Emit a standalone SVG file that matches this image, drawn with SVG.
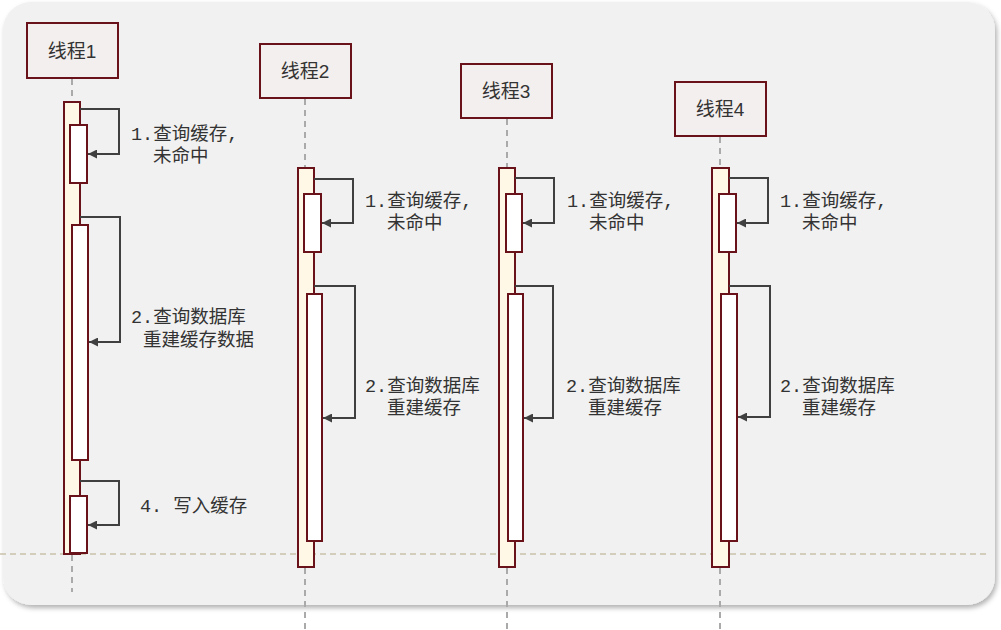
<svg xmlns="http://www.w3.org/2000/svg" width="1001" height="630" viewBox="0 0 1001 630">
<style>
.head{fill:#f3efef;stroke:#6a1219;stroke-width:2}
.outer{fill:#fff8e6;stroke:#6a1219;stroke-width:2}
.inner{fill:#ffffff;stroke:#6a1219;stroke-width:2}
.life{stroke:#aaaaaa;stroke-width:2;stroke-dasharray:6 5;fill:none}
.loop{fill:none;stroke:#404040;stroke-width:2}
.title{font-family:"Liberation Sans","Noto Sans CJK SC",sans-serif;font-size:19px;fill:#333333;text-anchor:middle}
.lbl{font-family:"Liberation Mono","Noto Sans CJK SC",monospace;font-size:18.5px;fill:#333333}
</style>
<defs>
<marker id="arr" viewBox="0 0 10 10" refX="10" refY="5" markerWidth="10" markerHeight="9" markerUnits="userSpaceOnUse" orient="auto">
<path d="M0,0 L10,5 L0,10 z" fill="#404040"/>
</marker>
<filter id="sh" x="-5%" y="-5%" width="110%" height="115%">
<feDropShadow dx="2" dy="3" stdDeviation="2.5" flood-color="#000000" flood-opacity="0.3"/>
</filter>
</defs>
<rect x="0" y="0" width="1001" height="630" fill="#ffffff"/>
<rect id="panel" x="3" y="2" width="992" height="603" rx="28" ry="28" fill="#f1f1f1" filter="url(#sh)"/>
<line x1="0" y1="554" x2="988" y2="554" stroke="#c9c1aa" stroke-width="1.5" stroke-dasharray="6 4"/>

<g id="lifelines">
<line class="life" x1="72" y1="79" x2="72" y2="102"/>
<line class="life" x1="72" y1="555" x2="72" y2="592"/>
<line class="life" x1="305" y1="99" x2="305" y2="168"/>
<line class="life" x1="305" y1="568" x2="305" y2="630"/>
<line class="life" x1="507" y1="119" x2="507" y2="168"/>
<line class="life" x1="507" y1="568" x2="507" y2="630"/>
<line class="life" x1="720" y1="137" x2="720" y2="168"/>
<line class="life" x1="720" y1="568" x2="720" y2="630"/>
</g>

<g id="thread1">
<rect class="head" x="27" y="23" width="91" height="55"/>
<text class="title" x="72" y="58">线程1</text>
<rect class="outer" x="64" y="102" width="16" height="452"/>
<rect class="inner" x="70" y="125" width="17" height="58"/>
<rect class="inner" x="72" y="225" width="16" height="235"/>
<rect class="inner" x="70" y="496" width="17" height="57"/>
</g>

<g id="thread2">
<rect class="head" x="260" y="44" width="91" height="54"/>
<text class="title" x="305" y="78">线程2</text>
<rect class="outer" x="298" y="168" width="16" height="399"/>
<rect class="inner" x="304" y="194" width="17" height="58"/>
<rect class="inner" x="307" y="294" width="15" height="247"/>
</g>

<g id="thread3">
<rect class="head" x="461" y="64" width="91" height="54"/>
<text class="title" x="506" y="98">线程3</text>
<rect class="outer" x="499" y="168" width="16" height="399"/>
<rect class="inner" x="506" y="194" width="16" height="58"/>
<rect class="inner" x="508" y="294" width="15" height="247"/>
</g>

<g id="thread4">
<rect class="head" x="675" y="82" width="91" height="54"/>
<text class="title" x="720" y="116">线程4</text>
<rect class="outer" x="712" y="168" width="17" height="399"/>
<rect class="inner" x="719" y="194" width="17" height="58"/>
<rect class="inner" x="721" y="294" width="16" height="247"/>
</g>

<g id="connectors">
<path class="loop" d="M80,109 H119 V154 H88" marker-end="url(#arr)"/>
<path class="loop" d="M80,217 H120 V342 H89" marker-end="url(#arr)"/>
<path class="loop" d="M80,481 H119 V525 H88" marker-end="url(#arr)"/>
<path class="loop" d="M314,179 H353 V223 H322" marker-end="url(#arr)"/>
<path class="loop" d="M314,286 H355 V418 H323" marker-end="url(#arr)"/>
<path class="loop" d="M515,178 H554 V223 H523" marker-end="url(#arr)"/>
<path class="loop" d="M515,286 H553 V418 H524" marker-end="url(#arr)"/>
<path class="loop" d="M729,178 H768 V223 H737" marker-end="url(#arr)"/>
<path class="loop" d="M729,286 H770 V417 H738" marker-end="url(#arr)"/>
</g>

<g id="labels">
<text class="lbl" x="131" y="140">1.查询缓存,</text>
<text class="lbl" x="153" y="162">未命中</text>
<text class="lbl" x="131" y="323">2.查询数据库</text>
<text class="lbl" x="143" y="346">重建缓存数据</text>
<text class="lbl" x="140" y="512">4. 写入缓存</text>

<text class="lbl" x="365" y="207">1.查询缓存,</text>
<text class="lbl" x="387" y="229">未命中</text>
<text class="lbl" x="365" y="392">2.查询数据库</text>
<text class="lbl" x="387" y="414">重建缓存</text>

<text class="lbl" x="567" y="207">1.查询缓存,</text>
<text class="lbl" x="589" y="229">未命中</text>
<text class="lbl" x="566" y="392">2.查询数据库</text>
<text class="lbl" x="588" y="414">重建缓存</text>

<text class="lbl" x="780" y="207">1.查询缓存,</text>
<text class="lbl" x="802" y="229">未命中</text>
<text class="lbl" x="780" y="392">2.查询数据库</text>
<text class="lbl" x="802" y="414">重建缓存</text>
</g>
</svg>
